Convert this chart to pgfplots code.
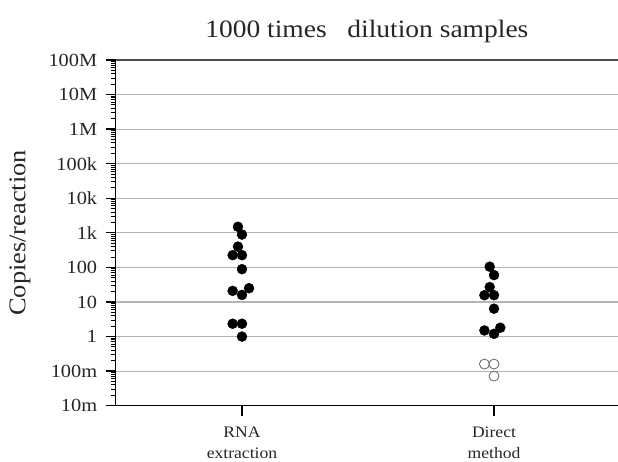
\documentclass[border=0pt]{standalone}
\usepackage{pgfplots}
\pgfplotsset{compat=1.18}
\usepackage{fontspec}
\setmainfont[FakeStretch=1.1]{Liberation Serif}
\definecolor{txt}{HTML}{262626}
\definecolor{gridc}{HTML}{B4B4B4}
\begin{document}
\begin{tikzpicture}
\begin{axis}[
  name=main,
  at={(0,0)}, anchor=south west,
  scale only axis,
  width=502.3pt, height=345.7pt,
  ymode=log,
  ymin=0.01, ymax=1e8,
  xmin=-0.501, xmax=1.492,
  axis x line=bottom, axis y line=left,
  axis line style={black, line width=1.6pt, -},
  xtick={0,1},
  xticklabels={{RNA\\extraction},{Direct\\method}},
  xticklabel style={align=center, font=\fontsize{16}{21}\selectfont, text=txt, yshift=-8pt},
  ytick={1e-2,1e-1,1,10,100,1e3,1e4,1e5,1e6,1e7,1e8},
  yticklabels={10m,100m,1,10,100,1k,10k,100k,1M,10M,100M},
  yticklabel style={font=\fontsize{18.5}{20}\selectfont, text=txt, xshift=-5pt},
  /pgf/number format/assume math mode=true,
  tick align=outside,
  major tick length=10pt, minor tick length=5pt,
  tick style={black, line width=1.3pt},
  minor tick style={black, line width=1pt},
  ymajorgrids,
  major grid style={gridc, line width=1.2pt},
  extra y ticks={1e8}, extra y tick labels={},
  extra y tick style={major grid style={black!70, line width=1.8pt}, major tick length=0pt},
  title={1000 times\ \ \ dilution samples},
  title style={font=\fontsize{25}{28}\selectfont, text=txt, yshift=8pt},
  ylabel={Copies/reaction},
  ylabel style={at={(axis description cs:-0.1905,0.5)}, anchor=center, font=\fontsize{24}{27}\selectfont, text=txt},
  clip=false,
]
% RNA extraction
\addplot[only marks, mark=*, mark size=5pt, mark options={fill=black, draw=black}] coordinates {
  (-0.016,1500) (0,890) (-0.016,400) (-0.037,226) (0,226) (0,89)
  (-0.037,21) (0,16) (0.028,25) (-0.037,2.35) (0,2.35) (0,1.0)
};
% Direct method
\addplot[only marks, mark=*, mark size=5pt, mark options={fill=black, draw=black}] coordinates {
  (0.983,105) (1,60) (0.983,27) (0.962,15.7) (1,15.7) (1,6.4)
  (0.962,1.5) (1,1.2) (1.025,1.8)
};
% below detection (open)
\addplot[only marks, mark=*, mark size=5pt, mark options={fill=white, draw=black!60, line width=0.8pt}] coordinates {
  (0.962,0.16) (1,0.16) (1,0.072)
};
\end{axis}
\pgfresetboundingbox
\path[use as bounding box] (-115.7pt,-56.3pt) rectangle (502.3pt,405.7pt);
\end{tikzpicture}
\end{document}
